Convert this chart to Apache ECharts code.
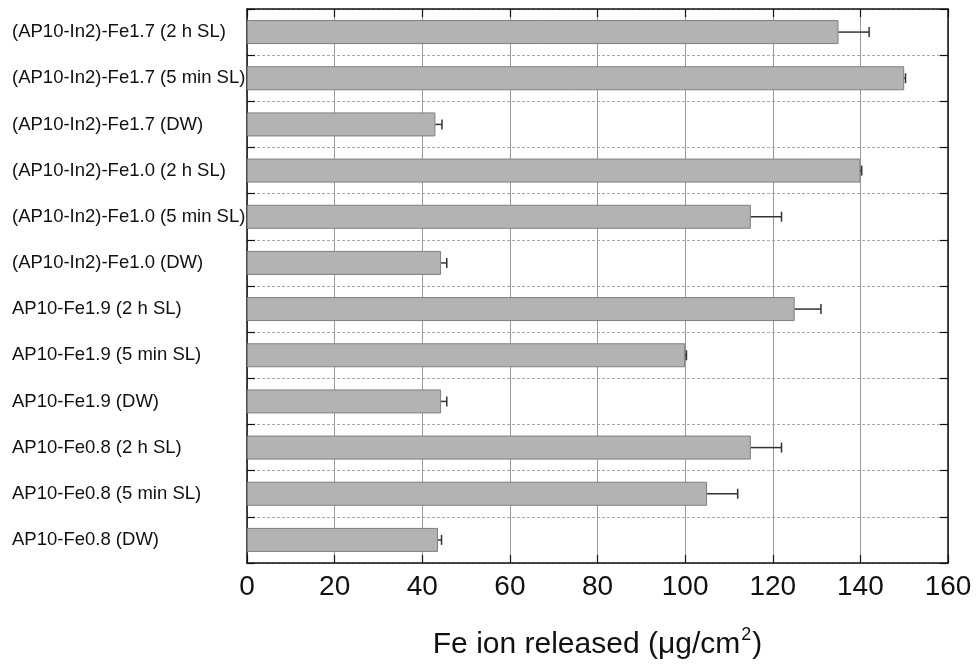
<!DOCTYPE html>
<html>
<head>
<meta charset="utf-8">
<script src="https://cdn.jsdelivr.net/npm/echarts@6/dist/echarts.min.js"></script>
<style>
html,body{margin:0;padding:0;background:#fff;}
#chart{width:977px;height:666px;}
</style>
</head>
<body>
<div id="chart"></div>
<script>
var categories = [
  "(AP10-In2)-Fe1.7 (2 h SL)",
  "(AP10-In2)-Fe1.7 (5 min SL)",
  "(AP10-In2)-Fe1.7 (DW)",
  "(AP10-In2)-Fe1.0 (2 h SL)",
  "(AP10-In2)-Fe1.0 (5 min SL)",
  "(AP10-In2)-Fe1.0 (DW)",
  "AP10-Fe1.9 (2 h SL)",
  "AP10-Fe1.9 (5 min SL)",
  "AP10-Fe1.9 (DW)",
  "AP10-Fe0.8 (2 h SL)",
  "AP10-Fe0.8 (5 min SL)",
  "AP10-Fe0.8 (DW)"
];
var values = [135, 150, 43, 140, 115, 44.3, 125, 100, 44.3, 115, 105, 43.6];
var errors = [7, 0.3, 1.5, 0.3, 7, 1.3, 6, 0.3, 1.3, 7, 7, 0.8];
var xTicks = [0, 20, 40, 60, 80, 100, 120, 140, 160];
var xNameMain = "Fe ion released (\u03bcg/cm";
var xNameSup = "2";
var xNameEnd = ")";

var FONT = "'Liberation Sans', Arial, sans-serif";
var chart = echarts.init(document.getElementById('chart'));

var errData = values.map(function (v, i) { return [v, i, v + errors[i]]; });

var option = {
  backgroundColor: '#fff',
  animation: false,
  grid: { left: 247, right: 29, top: 9, bottom: 103, containLabel: false },
  xAxis: [
    {
      type: 'value', position: 'bottom',
      min: xTicks[0], max: xTicks[xTicks.length - 1], interval: 20,
      name: '{a|' + xNameMain + '}{s|' + xNameSup + '}{a|' + xNameEnd + '}',
      nameLocation: 'middle', nameGap: 63,
      nameTextStyle: {
        fontFamily: FONT, fontSize: 30, color: '#111',
        rich: {
          a: { fontFamily: FONT, fontSize: 30, color: '#111', lineHeight: 34, verticalAlign: 'bottom' },
          s: { fontFamily: FONT, fontSize: 18, color: '#111', lineHeight: 34, verticalAlign: 'top', padding: [0, 1, 0, 1] }
        }
      },
      axisLine: { show: true, onZero: false, lineStyle: { color: '#111', width: 1.5 } },
      axisTick: { show: true, inside: true, length: 8, lineStyle: { color: '#111', width: 1.2 } },
      axisLabel: { fontFamily: FONT, fontSize: 28, color: '#111', margin: 10 },
      splitLine: { show: true, lineStyle: { color: '#9a9a9a', width: 1 } }
    },
    {
      type: 'value', position: 'top',
      min: xTicks[0], max: xTicks[xTicks.length - 1], interval: 20,
      axisLine: { show: true, onZero: false, lineStyle: { color: '#111', width: 1.5 } },
      axisTick: { show: true, inside: true, length: 8, lineStyle: { color: '#111', width: 1.2 } },
      axisLabel: { show: false },
      splitLine: { show: false }
    }
  ],
  yAxis: [
    {
      type: 'category', position: 'left', inverse: true, data: categories,
      axisLine: { show: true, onZero: false, lineStyle: { color: '#111', width: 1.5 } },
      axisTick: { show: true, inside: true, length: 8, lineStyle: { color: '#111', width: 1.2 } },
      axisLabel: { fontFamily: FONT, fontSize: 18.5, color: '#111', align: 'left', margin: 235 },
      splitLine: { show: true, lineStyle: { color: '#aaaaaa', width: 1, type: [3, 2] } }
    },
    {
      type: 'category', position: 'right', inverse: true, data: categories,
      axisLine: { show: true, onZero: false, lineStyle: { color: '#111', width: 1.5 } },
      axisTick: { show: true, inside: true, length: 8, lineStyle: { color: '#111', width: 1.2 } },
      axisLabel: { show: false },
      splitLine: { show: false }
    }
  ],
  series: [
    {
      type: 'bar', xAxisIndex: 0, yAxisIndex: 0,
      data: values, barWidth: 24,
      itemStyle: { color: '#b3b3b3', borderColor: '#7f7f7f', borderWidth: 1 },
      z: 2
    },
    {
      type: 'custom', xAxisIndex: 0, yAxisIndex: 0,
      data: errData,
      encode: { x: [0, 2], y: 1 },
      z: 3,
      renderItem: function (params, api) {
        var s = api.coord([api.value(0), api.value(1)]);
        var e = api.coord([api.value(2), api.value(1)]);
        var h = 5;
        var style = { stroke: '#333', lineWidth: 1.5, fill: null };
        return {
          type: 'group',
          children: [
            { type: 'line', shape: { x1: s[0], y1: s[1], x2: e[0], y2: e[1] }, style: style },
            { type: 'line', shape: { x1: e[0], y1: e[1] - h, x2: e[0], y2: e[1] + h }, style: style }
          ]
        };
      }
    }
  ]
};
chart.setOption(option);
</script>
</body>
</html>
